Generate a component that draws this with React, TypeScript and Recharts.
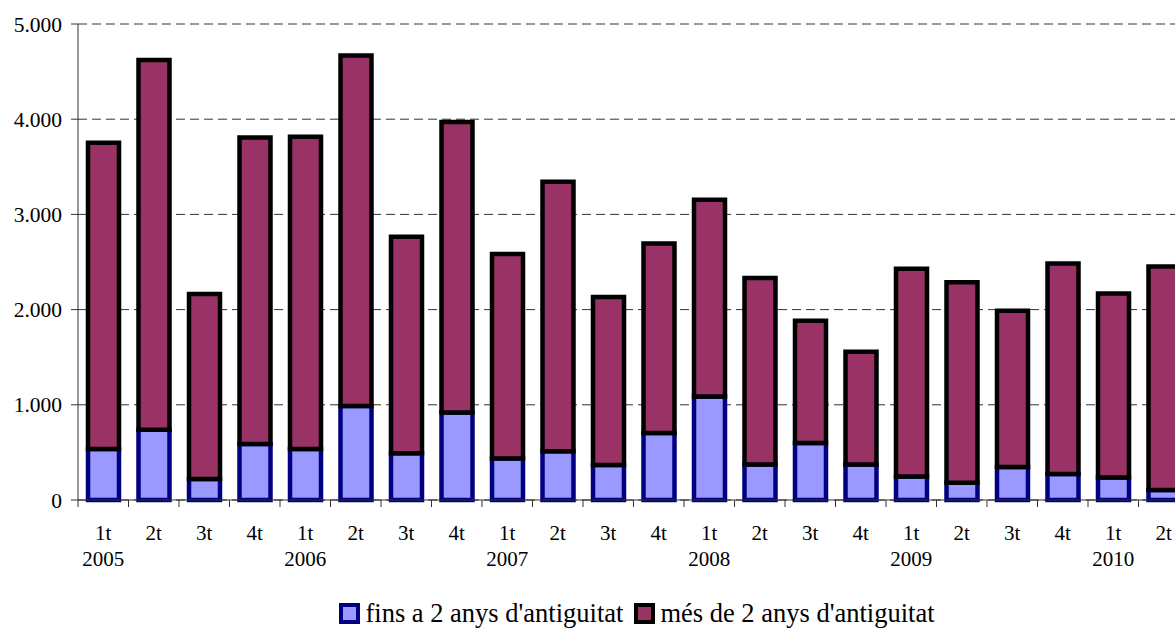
import React from "react";
import { BarChart, Bar, XAxis, YAxis, CartesianGrid, Legend } from "recharts";

// quarters 2005 1t .. 2010 2t
const quarters = [
  "1t", "2t", "3t", "4t",
  "1t", "2t", "3t", "4t",
  "1t", "2t", "3t", "4t",
  "1t", "2t", "3t", "4t",
  "1t", "2t", "3t", "4t",
  "1t", "2t",
];
const years = [
  "2005", "", "", "",
  "2006", "", "", "",
  "2007", "", "", "",
  "2008", "", "", "",
  "2009", "", "", "",
  "2010", "",
];
const finsA2Anys = [
  536, 738, 220, 588, 536, 987, 490, 920, 437, 511, 367,
  703, 1088, 374, 598, 374, 248, 182, 346, 273, 237, 105,
];
const mesDe2Anys = [
  3217, 3884, 1944, 3221, 3280, 3683, 2276, 3050, 2147, 2832, 1765,
  1992, 2066, 1958, 1285, 1184, 2182, 2104, 1642, 2212, 1933, 2349,
];
const yTicks = [0, 1000, 2000, 3000, 4000, 5000];

const series = [
  { key: "fins", name: "fins a 2 anys d'antiguitat", fill: "#9999FF", stroke: "#000080" },
  { key: "mes", name: "més de 2 anys d'antiguitat", fill: "#993366", stroke: "#000000" },
];

const data = quarters.map((q, i) => ({
  quarter: q,
  fins: finsA2Anys[i],
  mes: mesDe2Anys[i],
}));

const FONT = "Liberation Serif, Times New Roman, serif";

const fmt = (v: number) => String(v).replace(/\B(?=(\d{3})+(?!\d))/g, ".");

const QuarterTick = (props: any) => {
  const { x, y, payload } = props;
  const half = payload.offset ?? 25;
  const year = years[payload.index];
  return (
    <g>
      <line x1={x - half} x2={x - half} y1={y} y2={y + 7} stroke="#333" />
      <text x={x} y={y + 40} textAnchor="middle" fontSize={21} fontFamily={FONT} fill="#000">
        {payload.value}
      </text>
      {year ? (
        <text x={x} y={y + 66} textAnchor="middle" fontSize={21} fontFamily={FONT} fill="#000">
          {year}
        </text>
      ) : null}
    </g>
  );
};

const LegendContent = () => (
  <div
    style={{
      height: 54,
      boxSizing: "border-box",
      paddingTop: 28,
      paddingLeft: 85,
      display: "flex",
      justifyContent: "center",
      alignItems: "flex-start",
      fontFamily: FONT,
      fontSize: 26.5,
      lineHeight: "22px",
      color: "#000",
    }}
  >
    {series.map((s, i) => (
      <div key={s.key} style={{ display: "flex", alignItems: "center", marginLeft: i ? 11 : 0 }}>
        <span
          style={{
            display: "inline-block",
            width: 21,
            height: 21,
            boxSizing: "border-box",
            background: s.fill,
            border: `4px solid ${s.stroke}`,
            marginRight: 5,
          }}
        />
        <span style={{ whiteSpace: "nowrap" }}>{s.name}</span>
      </div>
    ))}
  </div>
);

export default function App() {
  return (
    <div
      style={{
        position: "fixed",
        left: 0,
        top: 0,
        width: 1175,
        height: 628,
        overflow: "hidden",
        background: "#fff",
        fontFamily: FONT,
      }}
    >
      <BarChart
        width={1200}
        height={628}
        data={data}
        margin={{ top: 24, right: 11, left: 0, bottom: 0 }}
      >
        <CartesianGrid vertical={false} stroke="#333" strokeDasharray="9 5" />
        <XAxis
          dataKey="quarter"
          interval={0}
          height={74}
          tickLine={false}
          tickSize={0}
          tickMargin={0}
          axisLine={{ stroke: "#333" }}
          tick={<QuarterTick />}
        />
        <YAxis
          width={78}
          domain={[0, 5000]}
          ticks={yTicks}
          tickFormatter={fmt}
          tickSize={7}
          tickMargin={9}
          axisLine={{ stroke: "#333" }}
          tickLine={{ stroke: "#333" }}
          tick={{ fontSize: 21.5, fill: "#000", fontFamily: FONT }}
        />
        <Legend verticalAlign="bottom" content={<LegendContent />} />
        {series.map((s) => (
          <Bar
            key={s.key}
            dataKey={s.key}
            name={s.name}
            stackId="a"
            barSize={31}
            fill={s.fill}
            stroke={s.stroke}
            strokeWidth={4.5}
            isAnimationActive={false}
          />
        ))}
      </BarChart>
    </div>
  );
}
